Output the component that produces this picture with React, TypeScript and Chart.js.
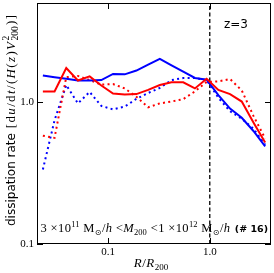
import React, { useEffect, useRef } from "react";
import { Chart, registerables } from "chart.js";
Chart.register(...registerables);

// radial bin centres R/R200
const radius = [0.02284, 0.02976, 0.03879, 0.05054, 0.06587, 0.08584, 0.1119, 0.1458, 0.19, 0.2477, 0.3228, 0.4207, 0.5483, 0.7146, 0.9317, 1.214, 1.582, 2.063, 2.688, 3.504];
const blueSolid = [1.54, 1.5, 1.46, 1.42, 1.42, 1.43, 1.58, 1.57, 1.67, 1.84, 2.02, 1.82, 1.64, 1.48, 1.44, 1.12, 0.9, 0.776, 0.626, 0.488];
const redSolid = [1.19, 1.19, 1.74, 1.42, 1.52, 1.31, 1.15, 1.13, 1.14, 1.22, 1.32, 1.38, 1.38, 1.25, 1.46, 1.22, 1.14, 1.01, 0.72, 0.52];
const blueDotted = [0.335, 0.745, 1.32, 0.98, 1.18, 0.94, 0.89, 0.93, 1.055, 1.16, 1.26, 1.43, 1.48, 1.48, 1.43, 1.076, 0.863, 0.764, 0.65, 0.5];
const redDotted = [0.58, 0.56, 1.5, 1.53, 1.43, 1.33, 1.34, 1.25, 1.09, 0.92, 0.98, 1.01, 1.05, 1.19, 1.39, 1.4, 1.456, 1.21, 0.8, 0.555];
const virialLineX = [1, 1];
const virialLineY = [0.1, 5];
const xMajor = [0.1, 1];
const xMajorLabels = ["0.1", "1.0"];
const yMajor = [0.1, 1];
const yMajorLabels = ["0.1", "1.0"];
const redshiftLabel = "z=3";

const SERIF = '"Liberation Serif"';
const SANS = '"DejaVu Sans"';

type Seg = { t?: string; f?: string; dy?: number; sup?: [string, string, number]; sub?: [string, string, number] };

function countUnits(segs: Seg[]) {
  let n = 0;
  for (const s of segs) n += s.t !== undefined ? Array.from(s.t).length : 1;
  return n;
}

function drawRich(ctx: CanvasRenderingContext2D, segs: Seg[], x: number, y: number, track = 0, draw = true) {
  let cx = x;
  for (const s of segs) {
    if (s.t !== undefined) {
      ctx.font = s.f!;
      for (const ch of Array.from(s.t)) {
        if (draw) ctx.fillText(ch, cx, y + (s.dy || 0));
        cx += ctx.measureText(ch).width + track;
      }
    } else {
      let w = 0;
      if (s.sup) {
        ctx.font = s.sup[1];
        if (draw) ctx.fillText(s.sup[0], cx, y + s.sup[2]);
        w = Math.max(w, ctx.measureText(s.sup[0]).width);
      }
      if (s.sub) {
        ctx.font = s.sub[1];
        if (draw) ctx.fillText(s.sub[0], cx, y + s.sub[2]);
        w = Math.max(w, ctx.measureText(s.sub[0]).width);
      }
      cx += w + track;
    }
  }
  return cx - x - track;
}

function drawFit(ctx: CanvasRenderingContext2D, segs: Seg[], x0: number, x1: number, y: number) {
  const w = drawRich(ctx, segs, 0, 0, 0, false);
  const n = countUnits(segs);
  const track = n > 1 ? (x1 - x0 - w) / (n - 1) : 0;
  drawRich(ctx, segs, x0, y, track);
}

function findLabel(v: number, majors: number[], labels: string[]) {
  const i = majors.findIndex((m) => Math.abs(m - v) / m < 1e-6);
  return i >= 0 ? labels[i] : null;
}

const overlay = {
  id: "overlay",
  afterDraw(chart: any) {
    const ctx: CanvasRenderingContext2D = chart.ctx;
    const { left, right, top, bottom } = chart.chartArea;
    const xs = chart.scales.x;
    const ys = chart.scales.y;
    ctx.save();
    ctx.strokeStyle = "#000";
    ctx.lineWidth = 1;
    ctx.strokeRect(Math.round(left) + 0.5, Math.round(top) + 0.5, Math.round(right - left) - 1, Math.round(bottom - top) - 1);
    ctx.beginPath();
    for (const t of xs.ticks) {
      const px = Math.round(xs.getPixelForValue(t.value)) + 0.5;
      const len = findLabel(t.value, xMajor, xMajorLabels) ? 6 : 3.5;
      ctx.moveTo(px, bottom);
      ctx.lineTo(px, bottom - len);
      ctx.moveTo(px, top);
      ctx.lineTo(px, top + len);
    }
    for (const t of ys.ticks) {
      const py = Math.round(ys.getPixelForValue(t.value)) + 0.5;
      const len = findLabel(t.value, yMajor, yMajorLabels) ? 6 : 3.5;
      ctx.moveTo(left, py);
      ctx.lineTo(left + len, py);
      ctx.moveTo(right, py);
      ctx.lineTo(right - len, py);
    }
    ctx.stroke();

    ctx.fillStyle = "#000";
    ctx.textBaseline = "alphabetic";
    ctx.textAlign = "left";

    // redshift label
    ctx.font = `12px ${SANS}`;
    ctx.fillText(redshiftLabel, 224, 28);

    // mass range annotation
    const r = `12.5px ${SERIF}`;
    const it = `italic 12.5px ${SERIF}`;
    const sm = `8.5px ${SERIF}`;
    const sym = `8px ${SANS}`;
    const ann: Seg[] = [
      { t: "3 ×10", f: r },
      { sup: ["11", sm, -5] },
      { t: " M", f: r },
      { sub: ["⊙", sym, 2.5] },
      { t: "/", f: r },
      { t: "h", f: it },
      { t: " <", f: r },
      { t: "M", f: it },
      { sub: ["200", sm, 2.5] },
      { t: " <1 ×10", f: r },
      { sup: ["12", sm, -5] },
      { t: " M", f: r },
      { sub: ["⊙", sym, 2.5] },
      { t: "/", f: r },
      { t: "h", f: it },
    ];
    drawFit(ctx, ann, 40.5, 230, 232);
    ctx.font = `bold 9.5px ${SANS}`;
    ctx.textAlign = "right";
    ctx.fillText("(# 16)", 268, 232);
    ctx.textAlign = "left";

    // x title
    const xt: Seg[] = [
      { t: "R", f: `italic 13px ${SERIF}` },
      { t: "/", f: `13px ${SERIF}` },
      { t: "R", f: `italic 13px ${SERIF}` },
      { sub: ["200", `9px ${SERIF}`, 3] },
    ];
    const xw = drawRich(ctx, xt, 0, 0, 0.5, false);
    drawRich(ctx, xt, 151 - xw / 2, 267, 0.5);

    // y title (rotated)
    ctx.save();
    ctx.translate(15, 226);
    ctx.rotate(-Math.PI / 2);
    const m = `13px ${SERIF}`;
    const mi = `italic 13px ${SERIF}`;
    const s9 = `9.5px ${SERIF}`;
    ctx.font = `12px ${SANS}`;
    ctx.fillText("dissipation rate", 0, 0);
    const w0 = ctx.measureText("dissipation rate ").width;
    const yt: Seg[] = [
      { t: "[d", f: m },
      { t: "u", f: mi },
      { t: "/d", f: m },
      { t: "t", f: mi },
      { t: "/(", f: m },
      { t: "H", f: mi },
      { t: "(", f: m },
      { t: "z", f: mi },
      { t: ")", f: m },
      { t: "V", f: mi },
      { sup: ["2", s9, -6.5], sub: ["200", s9, 3] },
      { t: ")]", f: m },
    ];
    drawFit(ctx, yt, w0 + 1, 226 - 15, 0);
    ctx.restore();
    ctx.restore();
  },
};

export default function App() {
  const ref = useRef<HTMLCanvasElement>(null);
  useEffect(() => {
    const pts = (ys: number[]) => radius.map((x, i) => ({ x, y: ys[i] }));
    const line = (data: any[], color: string, dash: number[] = []) => ({
      data,
      borderColor: color,
      backgroundColor: color,
      borderWidth: 2,
      borderDash: dash,
      pointRadius: 0,
      showLine: true,
      fill: false,
      tension: 0,
    });
    const chart = new Chart(ref.current!, {
      type: "scatter",
      data: {
        datasets: [
          line(pts(redSolid), "#ff0000"),
          line(pts(blueSolid), "#0000ff"),
          line(pts(redDotted), "#ff0000", [2, 3.3]),
          line(pts(blueDotted), "#0000ff", [2, 3.3]),
          { ...line(virialLineX.map((x, i) => ({ x, y: virialLineY[i] })), "#000", [4, 2.5]), borderWidth: 1.3 },
        ],
      },
      options: {
        responsive: false,
        animation: false,
        devicePixelRatio: 1,
        layout: { padding: { top: 3, right: 3, left: 0, bottom: 0 } },
        plugins: { legend: { display: false }, tooltip: { enabled: false } },
        scales: {
          x: {
            type: "logarithmic",
            min: 0.02,
            max: 4,
            grid: { display: false, drawTicks: false },
            border: { display: false },
            ticks: {
              autoSkip: false,
              maxRotation: 0,
              padding: 2,
              color: "#000",
              font: { family: "Liberation Serif", size: 11 },
              callback: (v: any) => findLabel(Number(v), xMajor, xMajorLabels),
            },
            afterFit: (s: any) => {
              s.height = 29;
              s.paddingLeft = 0;
              s.paddingRight = 0;
            },
          },
          y: {
            type: "logarithmic",
            min: 0.1,
            max: 5,
            grid: { display: false, drawTicks: false },
            border: { display: false },
            ticks: {
              autoSkip: false,
              padding: 3,
              color: "#000",
              font: { family: "Liberation Serif", size: 11 },
              callback: (v: any) => findLabel(Number(v), yMajor, yMajorLabels),
            },
            afterFit: (s: any) => {
              s.width = 37;
              s.paddingTop = 0;
              s.paddingBottom = 0;
            },
          },
        },
      },
      plugins: [overlay],
    });
    return () => chart.destroy();
  }, []);
  return (
    <div style={{ position: "fixed", left: 0, top: 0, width: 274, height: 273, background: "#fff" }}>
      <canvas ref={ref} width={274} height={273} />
    </div>
  );
}
